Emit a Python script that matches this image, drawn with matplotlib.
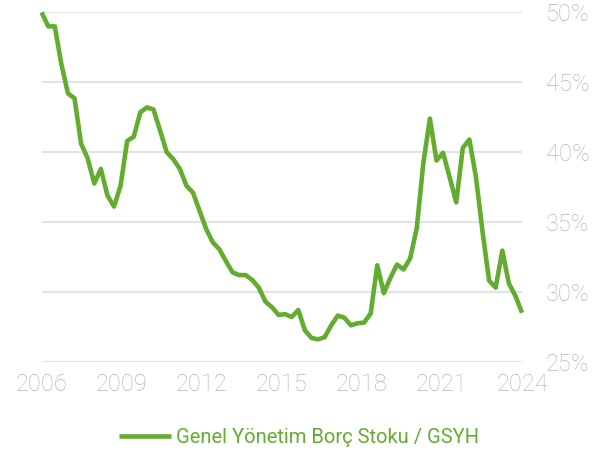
"""
Genel Yönetim Borç Stoku / GSYH line chart.
"""
import numpy as np
import matplotlib
matplotlib.use("Agg")
import matplotlib.pyplot as plt

LINE_GREEN = "#62AD2F"
LABEL_GREY = "#B5B5B5"
GRID_GREY = "#E3E3E3"

debt_ratio = [
    50.0, 49.0, 49.0, 46.3, 44.2, 43.85, 40.6, 39.55, 37.75, 38.8,
    36.9, 36.1, 37.6, 40.8, 41.1, 42.85, 43.2, 43.05, 41.55, 40.0,
    39.5, 38.8, 37.6, 37.1, 35.8, 34.5, 33.55, 33.05, 32.2, 31.4,
    31.2, 31.2, 30.85, 30.3, 29.3, 28.9, 28.35, 28.4, 28.2, 28.7,
    27.25, 26.7, 26.6, 26.75, 27.6, 28.3, 28.15, 27.6, 27.75, 27.8,
    28.45, 31.9, 29.9, 31.0, 31.95, 31.6, 32.4, 34.55, 39.2, 42.4,
    39.4, 39.95, 38.2, 36.4, 40.3, 40.9, 38.2, 34.3, 30.8, 30.3,
    32.95, 30.6, 29.7, 28.5,
]
year_labels = ["2006", "2009", "2012", "2015", "2018", "2021", "2024"]
y_ticks = [25, 30, 35, 40, 45, 50]

plt.rcParams["font.family"] = ["Roboto", "DejaVu Sans"]

fig = plt.figure(figsize=(6.12, 4.59), dpi=100)
ax = fig.add_axes([0.068, 0.212, 0.785, 0.761])

x = np.arange(len(debt_ratio))
ax.plot(x, debt_ratio, color=LINE_GREEN, linewidth=3.3,
        solid_joinstyle="round", solid_capstyle="butt", clip_on=False,
        label="Genel Yönetim Borç Stoku / GSYH", zorder=3)

ax.set_xlim(0, len(debt_ratio) - 1)
ax.set_ylim(25, 50)

ax.set_xticks(np.linspace(0, len(debt_ratio) - 1, len(year_labels)))
ax.set_xticklabels(year_labels)
ax.set_yticks(y_ticks)
ax.set_yticklabels([f"{v}%" for v in y_ticks])

for spine in ax.spines.values():
    spine.set_visible(False)
ax.yaxis.tick_right()
ax.tick_params(axis="both", length=0, colors=LABEL_GREY, labelsize=17)
ax.tick_params(axis="x", pad=8)
ax.tick_params(axis="y", pad=17)
for lab in ax.get_xticklabels() + ax.get_yticklabels():
    lab.set_fontweight("light")
ax.yaxis.grid(True, color=GRID_GREY, linewidth=1.5)
ax.xaxis.grid(False)
ax.set_axisbelow(True)

leg = fig.legend(loc="center", bbox_to_anchor=(0.489, 0.046), frameon=False,
                 fontsize=14.5, handlelength=2.6, handletextpad=0.25,
                 labelcolor=LINE_GREEN)

fig.savefig("out.png", dpi=100)
